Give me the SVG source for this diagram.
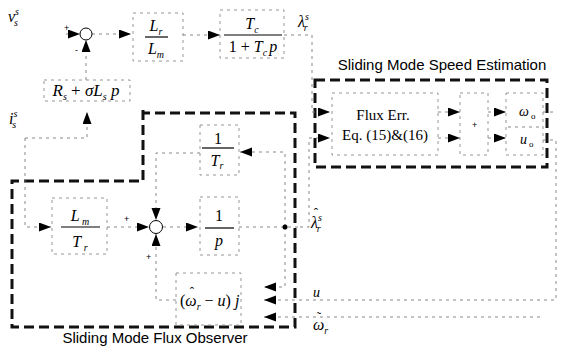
<svg xmlns="http://www.w3.org/2000/svg" width="568" height="353" viewBox="0 0 568 353">
<defs>
<marker id="ah" markerUnits="userSpaceOnUse" markerWidth="13" markerHeight="10" refX="12" refY="4.5" orient="auto">
<path d="M0,0 L12,4.5 L0,9 z" fill="#000"/>
</marker>
<style>
.box{fill:none;stroke:#8a8a8a;stroke-width:0.9;stroke-dasharray:3 4}
.ln{fill:none;stroke:#7a7a7a;stroke-width:0.9;stroke-dasharray:3 4}
.arr{marker-end:url(#ah)}
.bound{fill:none;stroke:#111;stroke-width:3;stroke-dasharray:10 5}
.m{font-family:"Liberation Serif","Times New Roman",serif;font-style:italic;font-size:16px;fill:#000}
.n{font-family:"Liberation Serif","Times New Roman",serif;font-style:normal;font-size:16px;fill:#000}
.r{font-family:"Liberation Serif","Times New Roman",serif;font-size:15px;fill:#000}
.s{font-family:"Liberation Sans",Arial,sans-serif;font-size:15px;fill:#000}
.sg{font-family:"Liberation Sans",Arial,sans-serif;font-size:9px;fill:#000}
.acc{font-family:"Liberation Serif","Times New Roman",serif;font-size:13px;fill:#000}
.fl{stroke:#000;stroke-width:1.2}
.sum{fill:#fff;stroke:#000;stroke-width:1}
</style>
</defs>
<rect width="568" height="353" fill="#fff"/>

<g id="boundaries">
<path class="bound" d="M143,110 V181 H12 V327 H295 V113 H143"/>
<text class="s" x="155" y="343" text-anchor="middle">Sliding Mode Flux Observer</text>
<rect class="bound" x="315" y="80" width="232" height="87"/>
<text class="s" x="442" y="70" text-anchor="middle">Sliding Mode Speed Estimation</text>
</g>

<g id="connectors">
<path class="ln arr" d="M66,34 H80"/>
<path class="ln arr" d="M86,80 V40"/>
<path class="ln arr" d="M92,34 H131"/>
<path class="ln arr" d="M183,35 H220"/>
<path class="ln arr" d="M284,35 H312 V112 H330"/>
<path class="ln arr" d="M25,138 H87 V112"/>
<path class="ln arr" d="M25,138 V227 H51"/>
<path class="ln arr" d="M107,227 H149"/>
<path class="ln arr" d="M200,153 H156 V220"/>
<path class="ln arr" d="M163,227 H198"/>
<path class="ln" d="M239,227 H300"/>
<path class="ln arr" d="M285,227 V152 H240"/>
<path class="ln arr" d="M285,227 V287 H264"/>
<path class="ln arr" d="M300,227 H309 V138 H330"/>
<path class="ln arr" d="M176,300 H156 V234"/>
<path class="ln arr" d="M543,140 H556 V300 H264"/>
<path class="ln arr" d="M540,317 H264"/>
<path class="ln" d="M543,112 H557"/>
<path class="ln arr" d="M438,112 H460"/>
<path class="ln arr" d="M438,138 H460"/>
<path class="ln arr" d="M488,112 H506"/>
<path class="ln arr" d="M488,138 H506"/>
<circle cx="285" cy="227" r="2.5" fill="#000"/>
<text class="sg" x="64" y="31">+</text>
<text class="sg" x="75" y="53">-</text>
<text class="sg" x="124" y="222">+</text>
<text class="sg" x="146" y="260">+</text>
</g>

<g id="v_s">
<text class="m" x="8" y="22">v<tspan font-size="10" dy="-7">s</tspan><tspan font-size="10" dx="-5" dy="11">s</tspan></text>
</g>

<g id="i_s">
<text class="m" x="9" y="124">i<tspan font-size="10" dy="-7">s</tspan><tspan font-size="10" dx="-5" dy="11">s</tspan></text>
</g>

<g id="lambda_r">
<text class="m" x="298" y="27">λ<tspan font-size="10" dy="-7">s</tspan><tspan font-size="10" dx="-5" dy="11">r</tspan></text>
</g>

<g id="lambda_hat">
<text class="acc" x="316" y="217" text-anchor="middle">ˆ</text>
<text class="m" x="311" y="228">λ<tspan font-size="10" dy="-7">s</tspan><tspan font-size="10" dx="-5" dy="11">r</tspan></text>
</g>

<g id="sum1">
<circle class="sum" cx="86" cy="34" r="6"/>
</g>

<g id="sum2">
<circle class="sum" cx="156" cy="227" r="6.5"/>
</g>

<g id="Lr_Lm">
<rect class="box" x="133" y="13" width="50" height="48"/>
<text class="m" x="156" y="31" text-anchor="middle">L<tspan font-size="10" dy="4">r</tspan></text>
<line class="fl" x1="145" y1="37" x2="168" y2="37"/>
<text class="m" x="156" y="54" text-anchor="middle">L<tspan font-size="10" dy="4">m</tspan></text>
</g>

<g id="Tc_filter">
<rect class="box" x="220" y="10" width="64" height="48"/>
<text class="m" x="252" y="29" text-anchor="middle">T<tspan font-size="10" dy="4">c</tspan></text>
<line class="fl" x1="224" y1="35" x2="282" y2="35"/>
<text class="m" x="253" y="52" text-anchor="middle"><tspan font-style="normal">1 + </tspan>T<tspan font-size="10" dy="4">c</tspan><tspan dx="2" dy="-4">p</tspan></text>
</g>

<g id="Rs_block">
<rect class="box" x="44" y="80" width="86" height="21"/>
<text class="m" x="86" y="96" text-anchor="middle" style="font-size:17px">R<tspan font-size="10" dy="4">s</tspan><tspan dy="-4" font-style="normal"> + </tspan>σL<tspan font-size="10" dy="4">s</tspan><tspan dy="-4"> p</tspan></text>
</g>

<g id="Lm_Tr">
<rect class="box" x="52" y="198" width="55" height="56"/>
<text class="m" x="80" y="221" text-anchor="middle">L<tspan font-size="10" dy="4"> m</tspan></text>
<line class="fl" x1="61" y1="227" x2="100" y2="227"/>
<text class="m" x="80" y="247" text-anchor="middle">T<tspan font-size="10" dy="4"> r</tspan></text>
</g>

<g id="inv_Tr">
<rect class="box" x="200" y="125" width="39" height="50"/>
<text class="n" x="218" y="144" text-anchor="middle">1</text>
<line class="fl" x1="202" y1="148" x2="234" y2="148"/>
<text class="m" x="217" y="166" text-anchor="middle">T<tspan font-size="10" dy="3">r</tspan></text>
</g>

<g id="integrator">
<rect class="box" x="200" y="197" width="39" height="58"/>
<text class="n" x="219" y="221" text-anchor="middle">1</text>
<line class="fl" x1="205" y1="228" x2="234" y2="228"/>
<text class="m" x="219" y="246" text-anchor="middle">p</text>
</g>

<g id="omega_u_j">
<rect class="box" x="176" y="273" width="65" height="52"/>
<text class="acc" x="192" y="296" text-anchor="middle">ˆ</text>
<text class="m" x="180" y="306"><tspan font-style="normal">(</tspan>ω<tspan font-size="10" dy="4">r</tspan><tspan dy="-4" font-style="normal"> − </tspan>u<tspan font-style="normal">)</tspan> j</text>
</g>

<g id="u_label">
<text class="m" x="313" y="297" style="font-size:14px">u</text>
</g>

<g id="omega_tilde_label">
<text class="acc" x="319" y="321" text-anchor="middle">˜</text>
<text class="m" x="313" y="330">ω<tspan font-size="10" dy="4">r</tspan></text>
</g>

<g id="flux_err">
<rect class="box" x="332" y="93" width="106" height="62"/>
<text class="r" x="383" y="120" text-anchor="middle">Flux Err.</text>
<text class="r" x="385" y="140" text-anchor="middle">Eq. (15)&amp;(16)</text>
</g>

<g id="sign_block">
<rect class="box" x="460" y="93" width="28" height="62"/>
<text class="sg" x="472" y="128">+</text>
</g>

<g id="output_block">
<rect class="box" x="506" y="93" width="37" height="62"/>
<line class="ln" x1="508" y1="127" x2="540" y2="127"/>
<text class="m" x="519" y="116" style="font-size:14px">ω<tspan font-size="9" dx="2" dy="3" font-style="normal">o</tspan></text>
<text class="m" x="520" y="144" style="font-size:14px">u<tspan font-size="9" dx="2" dy="3" font-style="normal">o</tspan></text>
</g>
</svg>
